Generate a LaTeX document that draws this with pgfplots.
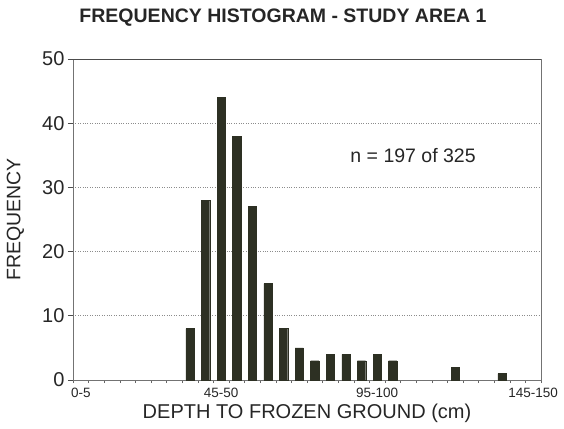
\documentclass[border=0pt]{standalone}
\usepackage{pgfplots}
\pgfplotsset{compat=1.18}
\usepackage{fontspec}
\setmainfont{Liberation Sans}
\definecolor{barc}{RGB}{45,48,35}
\begin{document}
\begin{tikzpicture}
\useasboundingbox (-73pt,-48pt) rectangle (491pt,380pt);
\begin{axis}[
  scale only axis,
  width=468pt, height=321pt,
  at={(0,0)}, anchor=south west,
  xmin=-0.5, xmax=29.5,
  ymin=0, ymax=50,
  ytick={0,10,...,50},
  xtick={0,9,19,29},
  xticklabels={0-5,45-50,95-100,145-150},
  minor xtick={-0.5,0.5,...,29.5},
  tick align=outside,
  xtick pos=bottom, ytick pos=left,
  major x tick style={draw=none},
  minor x tick style={black!60, line width=0.5pt},
  minor tick length=3pt,
  major tick length=5pt,
  y tick style={black!70, line width=0.6pt},
  ymajorgrids,
  grid style={black!45, dotted, line width=0.8pt},
  axis line style={black!55, line width=0.6pt},
  /pgf/number format/assume math mode=true,
  yticklabel style={font=\fontsize{20}{20}\selectfont, black!85},
  xticklabel style={font=\fontsize{13.5}{13.5}\selectfont, black!85},
  xlabel={DEPTH TO FROZEN GROUND (cm)},
  ylabel={FREQUENCY},
  xlabel style={font=\fontsize{20}{20}\selectfont, black!85, at={(axis description cs:0.5,0)}, anchor=center, yshift=-33pt},
  ylabel style={font=\fontsize{19.5}{19.5}\selectfont, black!85, at={(axis description cs:0,0.5)}, anchor=center, yshift=57.5pt},
  title={\textbf{FREQUENCY HISTOGRAM - STUDY AREA 1}},
  title style={font=\fontsize{19.5}{19.5}\selectfont, black!85, at={(axis description cs:0.5,1)}, anchor=center, yshift=35pt, xshift=-24pt},
]
\addplot[ybar, bar width=0.53, fill=barc, draw=barc] coordinates {
(7,8) (8,28) (9,44) (10,38) (11,27) (12,15) (13,8) (14,5) (15,3) (16,4) (17,4) (18,3) (19,4) (20,3) (24,2) (27,1)
};
\draw[black!70, line width=0.8pt] (axis cs:-0.5,50) -- (axis cs:29.5,50);
\node[font=\fontsize{19.5}{19.5}\selectfont, black!85] at (axis cs:21.3,35) {n = 197 of 325};
\end{axis}
\end{tikzpicture}
\end{document}
